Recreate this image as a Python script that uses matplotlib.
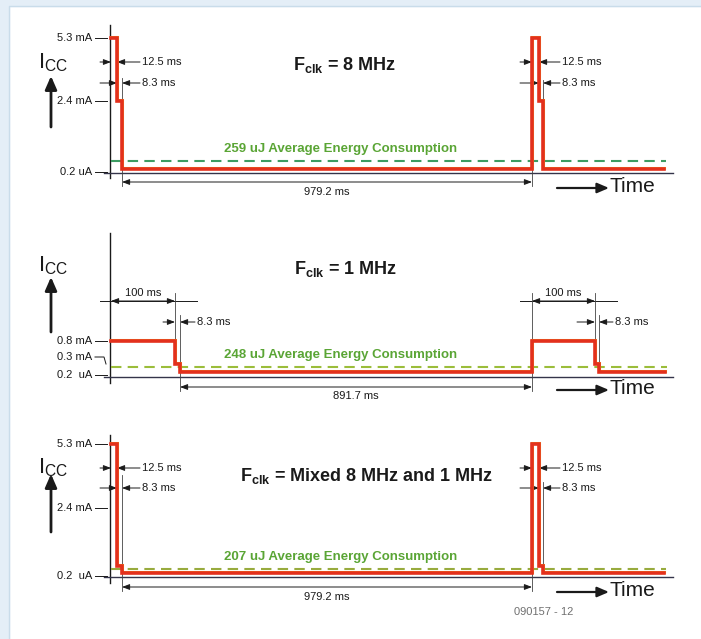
import matplotlib
matplotlib.use("Agg")
import numpy as np
import matplotlib.pyplot as plt
import matplotlib.patheffects as pe
from matplotlib.patches import Rectangle
from matplotlib.transforms import Affine2D, blended_transform_factory
from matplotlib import font_manager

W, H = 701, 639

# ---- data: one period = active phases + sleep, drawn twice per panel
phase_ms = [[12.5, 8.3, 979.2], [100.0, 8.3, 891.7], [12.5, 8.3, 979.2]]
phase_mA = [[5.3, 2.4, 0.0002], [0.8, 0.3, 0.0002], [5.3, 0.3, 0.0002]]
trace_end_ms = [1310, 1275, 1310]
avg_level_mA = [0.28, 0.19, 0.15]          # height of the dashed average line as drawn
avg_energy = ['259 uJ', '248 uJ', '207 uJ']
clock = ['8 MHz', '1 MHz', 'Mixed 8 MHz and 1 MHz']
tick_mA = [[5.3, 2.4, 0.0002], [0.8, 0.3, 0.0002], [5.3, 2.4, 0.0002]]
tick_text = [['5.3 mA', '2.4 mA', '0.2 uA'],
             ['0.8 mA', '0.3 mA', '0.2  uA'],
             ['5.3 mA', '2.4 mA', '0.2  uA']]

# ---- layout of the drawing (pixel columns / rows), the time axis is schematic
x_px = [[111, 117, 122, 532, 539, 543],
        [111, 175, 180, 532, 595, 599],
        [111, 117, 122, 532, 539, 543]]
y_knots = [([0, 2.4, 5.3], [169, 101, 38]),
           ([0, 0.3, 0.8], [372, 364, 341]),
           ([0, 0.3, 2.4, 5.3], [573, 566, 508, 444])]
tick_shift = [[0, 0, 3], [0, -7, 3], [0, 0, 3]]
panels = [
    dict(vaxis=(25, 178), taxis=173, title=(345, 65), green=149, icc=63, arrow=(127, 76), time=188,
         outs=[(0, 1, 62, 100, 142), (1, 2, 83, 100, 142), (3, 4, 62, 520, 562), (4, 5, 83, 520, 562)],
         ins=[(2, 3, 182, 192, None)],
         ext=[(2, 78, 186), (3, 165, 186), (5, 80, 99)],
         dash='#3c9c62'),
    dict(vaxis=(233, 383), taxis=377, title=(346, 269), green=355, icc=266, arrow=(332, 277), time=390,
         outs=[(1, 2, 322, 163, 197), (4, 5, 322, 577, 615)],
         ins=[(0, 1, 301, 293, (100, 197)), (3, 4, 301, 293, (520, 617)), (2, 3, 387, 396, None)],
         ext=[(1, 293, 341), (2, 315, 391), (3, 293, 391), (4, 293, 341), (5, 315, 366)],
         dash='#9bbd3a'),
    dict(vaxis=(435, 583), taxis=577, title=(367, 476), green=557, icc=468, arrow=(532, 474), time=592,
         outs=[(0, 1, 468, 100, 142), (1, 2, 488, 100, 142), (3, 4, 468, 520, 562), (4, 5, 488, 520, 562)],
         ins=[(2, 3, 587, 597, None)],
         ext=[(2, 475, 591), (3, 568, 591), (5, 482, 565)],
         dash='#98ab3e'),
]

names = {f.name for f in font_manager.fontManager.ttflist}
narrow = 'Liberation Sans Narrow' if 'Liberation Sans Narrow' in names else 'Liberation Sans'
plt.rcParams['font.family'] = [narrow, 'DejaVu Sans']
plt.rcParams['mathtext.fontset'] = 'custom'
plt.rcParams['mathtext.rm'] = 'Liberation Sans'
plt.rcParams['mathtext.bf'] = 'Liberation Sans:bold'

RED = '#e3301d'
INK = '#1a1a1a'
GREEN = '#5aa535'


def pw_scale(d, p, s_lo, s_hi):
    d = np.r_[d[0] - 1e6, d, d[-1] + 1e6]
    p = np.r_[p[0] - 1e6 * s_lo, p, p[-1] + 1e6 * s_hi]
    return (lambda v: np.interp(v, d, p)), (lambda v: np.interp(v, p, d))


fig = plt.figure(figsize=(W / 100, H / 100), dpi=100)
fig.patch.set_facecolor('white')
tpx = Affine2D().scale(1 / W, -1 / H).translate(0, 1) + fig.transFigure

# page frame
fig.patches.append(Rectangle((0, 0), 9, H, transform=tpx, color='#e4eef7', zorder=0))
fig.patches.append(Rectangle((0, 0), W, 6, transform=tpx, color='#e4eef7', zorder=0))
fig.lines.append(plt.Line2D([9, 9, W], [H, 6, 6], transform=tpx, color='#c9dcea', lw=1))

for k, L in enumerate(panels):
    ms = np.array(phase_ms[k])
    edges = np.concatenate([[0], np.cumsum(np.r_[ms, ms])])
    xs = (x_px[k][3] - x_px[k][2]) / ms[2]
    fx, ix = pw_scale(edges[:6], x_px[k], xs, xs)
    yd, yr = y_knots[k]
    q = H - np.array(yr, float)
    fy, iy = pw_scale(yd, q, (q[1] - q[0]) / (yd[1] - yd[0]), (q[-1] - q[-2]) / (yd[-1] - yd[-2]))

    ax = fig.add_axes([0, 0, 1, 1])
    ax.set_xscale('function', functions=(fx, ix))
    ax.set_yscale('function', functions=(fy, iy))
    ax.set_xlim(float(ix(0)), float(ix(W)))
    ax.set_ylim(float(iy(0)), float(iy(H)))
    ax.axis('off')
    ax.patch.set_alpha(0)
    bx = blended_transform_factory(ax.transData, tpx)

    # axes
    ax.plot([110, 110], L['vaxis'], transform=tpx, color=INK, lw=1)
    ax.plot([104, 673], [L['taxis']] * 2, transform=tpx, color='#34344a', lw=1)

    # y labels
    for v, s, sh in zip(tick_mA[k], tick_text[k], tick_shift[k]):
        row = H - float(fy(v)) + sh
        ax.text(92, row, s, transform=tpx, ha='right', va='center', fontsize=8, color=INK)
        if sh < 0:
            ax.plot([95, 104, 106], [row, row, row - sh], transform=tpx, color=INK, lw=0.7)
        else:
            ax.plot([95, 107], [row, row], transform=tpx, color=INK, lw=0.7)

    # current trace
    levels = np.r_[phase_mA[k], phase_mA[k]]
    t = np.repeat(edges, 2)[1:-1]
    y = np.repeat(levels, 2)
    keep = t <= trace_end_ms[k]
    t = np.r_[t[keep], trace_end_ms[k]]
    y = np.r_[y[keep], y[keep][-1]]
    ax.plot(t, y, color=RED, lw=2.6, solid_joinstyle='miter', zorder=5,
            path_effects=[pe.Stroke(offset=(0, 1.0), linewidth=2.2, foreground='#f3b92a'), pe.Normal()])

    # average line
    ax.plot([0, trace_end_ms[k] + 5], [avg_level_mA[k]] * 2, color=L['dash'], lw=1.5,
            linestyle=(0, (5, 3)), zorder=4)
    ax.text(341, L['green'], avg_energy[k] + ' Average Energy Consumption', transform=tpx,
            ha='center', va='center', fontsize=9.5, fontweight='bold', color=GREEN)

    # title, Icc, time arrow
    ax.text(L['title'][0], L['title'][1], r'$\mathbf{F_{clk}}$ = ' + clock[k], transform=tpx,
            ha='center', va='center', fontsize=13, fontweight='bold', color=INK)
    ax.text(53, L['icc'], r'$\mathrm{I_{CC}}$', transform=tpx, ha='center', va='center',
            fontsize=16, color=INK)
    ax.annotate('', xy=(51, L['arrow'][1]), xytext=(51, L['arrow'][0]), xycoords=tpx, textcoords=tpx,
                arrowprops=dict(arrowstyle='-|>,head_length=0.8,head_width=0.35', color=INK, lw=2,
                                shrinkA=0, shrinkB=0))
    ax.annotate('', xy=(609, L['time']), xytext=(557, L['time']), xycoords=tpx, textcoords=tpx,
                arrowprops=dict(arrowstyle='-|>,head_length=0.7,head_width=0.3', color=INK, lw=1.6,
                                shrinkA=0, shrinkB=0))
    ax.text(610, L['time'] - 1, 'Time', transform=tpx, ha='left', va='center', fontsize=15, color=INK)

    # dimension marks
    dim = dict(color=INK, lw=0.7, shrinkA=0, shrinkB=0)
    head = '-|>,head_length=0.45,head_width=0.17'
    for i0, i1, row, lx, tx in L['outs']:
        ax.annotate('', xy=(edges[i0], row), xycoords=bx, xytext=(lx, row), textcoords=tpx,
                    arrowprops=dict(arrowstyle=head, **dim))
        ax.annotate('', xy=(edges[i1], row), xycoords=bx, xytext=(tx - 2, row), textcoords=tpx,
                    arrowprops=dict(arrowstyle=head, **dim))
        ax.text(tx, row, '%g ms' % (edges[i1] - edges[i0]), transform=tpx, ha='left', va='center',
                fontsize=8, color=INK)
    for i0, i1, row, lrow, extra in L['ins']:
        ax.annotate('', xy=(edges[i1], row), xycoords=bx, xytext=(edges[i0], row), textcoords=bx,
                    arrowprops=dict(arrowstyle='<|-|>,head_length=0.45,head_width=0.17', **dim))
        if extra:
            ax.plot(extra, [row, row], transform=tpx, color=INK, lw=0.7)
        ax.text((edges[i0] + edges[i1]) / 2, lrow, '%g ms' % (edges[i1] - edges[i0]), transform=bx,
                ha='center', va='center', fontsize=8, color=INK)
    for i, r0, r1 in L['ext']:
        ax.plot([edges[i]] * 2, [r0, r1], transform=bx, color='#444444', lw=0.6, zorder=3)

fig.text(544, 612, '090157 - 12', transform=tpx, ha='center', va='center', fontsize=8, color='#707070')

fig.savefig('out.png', dpi=100)
